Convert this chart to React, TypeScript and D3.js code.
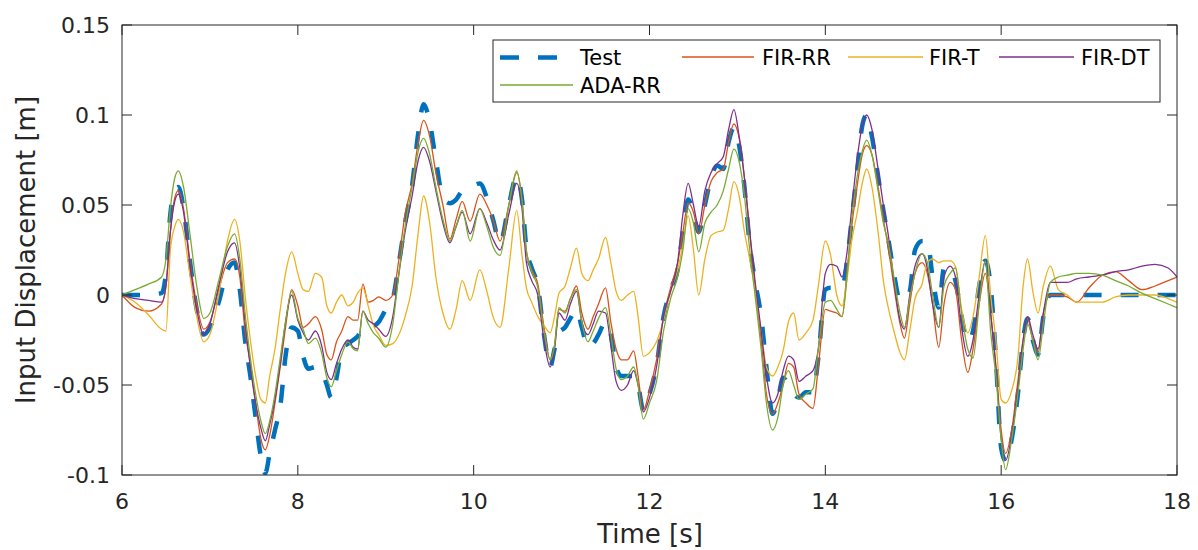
import React from "react";
import * as d3 from "d3";

const times = [6.0,6.15,6.3,6.45,6.5,6.55,6.6,6.64,6.7,6.77,6.85,6.93,7.0,7.1,7.2,7.28,7.34,7.4,7.46,7.52,7.58,7.63,7.68,7.74,7.8,7.86,7.93,8.0,8.06,8.12,8.2,8.27,8.33,8.38,8.44,8.5,8.57,8.63,8.68,8.74,8.8,8.86,8.92,9.0,9.08,9.15,9.22,9.3,9.37,9.43,9.5,9.57,9.65,9.73,9.8,9.87,9.96,10.07,10.15,10.22,10.3,10.4,10.49,10.55,10.6,10.66,10.73,10.8,10.87,10.92,10.97,11.04,11.1,11.17,11.23,11.3,11.36,11.42,11.5,11.56,11.62,11.68,11.75,11.82,11.87,11.93,12.0,12.08,12.16,12.24,12.32,12.38,12.44,12.5,12.56,12.63,12.7,12.77,12.84,12.9,12.96,13.02,13.08,13.14,13.2,13.27,13.33,13.4,13.46,13.52,13.58,13.64,13.7,13.78,13.86,13.92,14.0,14.06,14.13,14.19,14.25,14.3,14.36,14.42,14.47,14.53,14.6,14.66,14.72,14.78,14.85,14.9,14.96,15.02,15.1,15.16,15.22,15.29,15.35,15.42,15.48,15.55,15.62,15.68,15.75,15.82,15.88,15.94,16.0,16.05,16.12,16.19,16.25,16.3,16.36,16.42,16.48,16.56,16.65,16.75,16.86,17.0,17.15,17.3,17.45,17.6,17.75,17.9,18.0];

const testVals = [0,0,0,0.001,0.012,0.045,0.058,0.06,0.048,0.02,-0.008,-0.022,-0.018,-0.004,0.014,0.018,0.003,-0.025,-0.045,-0.068,-0.09,-0.099,-0.088,-0.075,-0.062,-0.034,-0.018,-0.02,-0.034,-0.041,-0.04,-0.042,-0.05,-0.057,-0.046,-0.03,-0.027,-0.025,-0.023,-0.018,-0.017,-0.017,-0.015,-0.008,-0.002,0.018,0.04,0.061,0.09,0.106,0.096,0.075,0.054,0.051,0.053,0.058,0.06,0.062,0.054,0.042,0.029,0.05,0.066,0.053,0.026,0.015,0.005,-0.022,-0.04,-0.03,-0.021,-0.018,-0.013,-0.008,-0.018,-0.029,-0.027,-0.022,-0.015,-0.022,-0.04,-0.045,-0.045,-0.045,-0.05,-0.064,-0.055,-0.039,-0.012,0.003,0.014,0.035,0.053,0.045,0.035,0.05,0.065,0.072,0.07,0.085,0.093,0.083,0.06,0.028,0.008,-0.012,-0.04,-0.066,-0.058,-0.046,-0.05,-0.055,-0.057,-0.054,-0.054,-0.035,0.003,0.004,0.004,0.004,0.02,0.042,0.068,0.094,0.1,0.088,0.066,0.047,0.03,0.012,-0.003,-0.002,0.002,0.025,0.03,0.03,0.01,-0.007,0.015,0.015,0.008,-0.012,-0.026,-0.02,0.005,0.019,0.005,-0.035,-0.085,-0.092,-0.08,-0.055,-0.025,-0.013,-0.025,-0.033,-0.012,0,0,0,0,0,0,0,0,0,0,0,0];

const firRR = [0,-0.007,-0.009,-0.005,0.005,0.035,0.054,0.058,0.048,0.02,-0.005,-0.019,-0.015,0.003,0.018,0.02,0.01,-0.02,-0.038,-0.06,-0.08,-0.086,-0.078,-0.06,-0.04,-0.018,0.003,-0.006,-0.018,-0.016,-0.012,-0.019,-0.033,-0.036,-0.026,-0.02,-0.012,-0.014,-0.014,0.006,-0.004,-0.003,-0.001,-0.003,0,0.02,0.045,0.062,0.085,0.097,0.088,0.068,0.05,0.031,0.042,0.052,0.041,0.056,0.05,0.042,0.03,0.05,0.068,0.053,0.024,0.014,0.006,-0.018,-0.036,-0.028,-0.008,-0.009,-0.002,0.005,-0.01,-0.019,-0.012,-0.005,0.004,-0.015,-0.03,-0.036,-0.036,-0.031,-0.045,-0.064,-0.053,-0.036,-0.012,0.004,0.018,0.035,0.051,0.046,0.034,0.05,0.063,0.068,0.07,0.085,0.095,0.087,0.065,0.035,0.005,-0.025,-0.055,-0.066,-0.06,-0.05,-0.038,-0.04,-0.055,-0.06,-0.063,-0.04,-0.008,-0.009,-0.01,-0.012,0.015,0.038,0.06,0.078,0.083,0.078,0.06,0.042,0.025,0.005,-0.016,-0.024,-0.005,0.012,0.018,0.012,-0.005,-0.029,-0.005,0.007,0.003,-0.025,-0.043,-0.03,-0.005,0.012,-0.01,-0.04,-0.075,-0.088,-0.075,-0.048,-0.025,-0.013,-0.025,-0.032,-0.01,0,0,-0.001,-0.004,0.004,0.011,0.013,0.008,0.003,0.005,0.008,0.01];

const firT = [0,-0.004,-0.011,-0.019,-0.02,0.025,0.038,0.042,0.035,0.012,-0.012,-0.026,-0.022,0,0.03,0.042,0.03,0,-0.025,-0.045,-0.058,-0.06,-0.045,-0.03,-0.008,0.012,0.024,0.012,0.003,0.002,0.012,0.01,-0.006,-0.01,-0.004,0,-0.006,-0.004,0.001,0.004,-0.006,-0.017,-0.022,-0.028,-0.027,-0.022,-0.012,0.005,0.035,0.055,0.04,0.01,-0.01,-0.019,-0.008,0.008,-0.003,0.014,0.002,-0.012,-0.018,0.015,0.047,0.022,0.004,-0.004,-0.012,-0.017,-0.021,-0.012,0.001,0.005,0.015,0.026,0.012,0.008,0.014,0.02,0.032,0.018,0.002,-0.003,0,0.002,-0.012,-0.034,-0.032,-0.026,-0.014,0.002,0.014,0.028,0.044,0.025,0,0.02,0.033,0.035,0.036,0.048,0.063,0.055,0.035,0.02,0.003,-0.02,-0.04,-0.045,-0.04,-0.031,-0.015,-0.01,-0.025,-0.021,-0.014,0.005,0.03,0.022,0,-0.006,0.01,0.03,0.045,0.062,0.07,0.06,0.035,0.008,-0.008,-0.02,-0.032,-0.036,-0.02,-0.002,0.006,0.018,0.02,0.018,0.019,0.019,0.016,-0.008,-0.021,-0.012,0.01,0.033,0,-0.025,-0.058,-0.06,-0.053,-0.035,0.005,0.02,0.002,-0.01,0.005,0.016,0.003,0,-0.004,-0.004,-0.004,-0.001,0,0,0,-0.002,-0.004];

const firDT = [0,-0.002,-0.003,-0.004,0.005,0.035,0.052,0.056,0.046,0.018,-0.008,-0.022,-0.016,0.005,0.024,0.029,0.015,-0.015,-0.04,-0.06,-0.074,-0.081,-0.072,-0.058,-0.038,-0.015,0,-0.014,-0.021,-0.025,-0.02,-0.028,-0.043,-0.047,-0.038,-0.03,-0.025,-0.029,-0.03,-0.009,-0.014,-0.016,-0.019,-0.023,-0.012,0.012,0.035,0.055,0.075,0.082,0.074,0.058,0.04,0.029,0.038,0.046,0.034,0.048,0.04,0.031,0.025,0.045,0.062,0.048,0.018,0.008,0,-0.025,-0.04,-0.03,-0.01,-0.014,-0.005,0.002,-0.015,-0.022,-0.016,-0.009,-0.01,-0.028,-0.048,-0.053,-0.05,-0.042,-0.05,-0.065,-0.057,-0.04,-0.012,0.002,0.018,0.045,0.062,0.05,0.038,0.058,0.068,0.073,0.077,0.092,0.103,0.088,0.065,0.035,0.008,-0.02,-0.045,-0.06,-0.055,-0.042,-0.034,-0.036,-0.048,-0.045,-0.042,-0.03,0.012,0.017,0.016,0.01,0.025,0.048,0.075,0.094,0.1,0.092,0.07,0.05,0.032,0.008,-0.014,-0.019,0,0.016,0.023,0.015,-0.005,-0.018,0.01,0.016,0.01,-0.018,-0.034,-0.025,0,0.019,-0.01,-0.04,-0.08,-0.092,-0.078,-0.052,-0.025,-0.012,-0.022,-0.03,-0.01,0.007,0.007,0.007,0.009,0.01,0.011,0.013,0.014,0.016,0.017,0.015,0.01];

const adaRR = [0,0.003,0.006,0.01,0.02,0.048,0.065,0.069,0.06,0.035,0.005,-0.013,-0.01,0.008,0.027,0.034,0.02,-0.01,-0.035,-0.055,-0.07,-0.077,-0.07,-0.055,-0.035,-0.015,0.002,-0.013,-0.019,-0.027,-0.024,-0.032,-0.046,-0.051,-0.042,-0.033,-0.026,-0.03,-0.031,-0.009,-0.016,-0.021,-0.024,-0.029,-0.016,0.012,0.038,0.06,0.08,0.087,0.078,0.06,0.042,0.03,0.038,0.047,0.03,0.048,0.038,0.027,0.022,0.05,0.069,0.052,0.025,0.013,0.004,-0.02,-0.036,-0.028,-0.007,-0.01,-0.002,0.003,-0.015,-0.026,-0.02,-0.013,-0.007,-0.022,-0.041,-0.047,-0.045,-0.04,-0.05,-0.069,-0.06,-0.048,-0.02,-0.002,0.01,0.025,0.048,0.04,0.024,0.04,0.046,0.05,0.058,0.07,0.081,0.074,0.055,0.025,0,-0.03,-0.06,-0.075,-0.068,-0.05,-0.042,-0.05,-0.058,-0.055,-0.052,-0.03,-0.004,-0.003,-0.008,-0.012,0.012,0.042,0.065,0.08,0.086,0.078,0.058,0.04,0.028,0.01,-0.01,-0.018,-0.002,0.012,0.023,0.018,0,-0.018,0.005,0.012,0.015,-0.01,-0.03,-0.035,-0.005,0.019,-0.02,-0.045,-0.08,-0.097,-0.08,-0.055,-0.03,-0.016,-0.025,-0.036,-0.016,0.007,0.01,0.011,0.012,0.012,0.011,0.008,0.005,0.001,-0.002,-0.005,-0.007];

const seriesNames = ["Test", "FIR-RR", "FIR-T", "FIR-DT", "ADA-RR"];
const seriesValues = [testVals, firRR, firT, firDT, adaRR];
const seriesColors = ["#0072BD", "#D95319", "#EDB120", "#7E2F8E", "#77AC30"];

const xTicks = [6, 8, 10, 12, 14, 16, 18];
const yTicks = [-0.1, -0.05, 0, 0.05, 0.1, 0.15];
const yTickLabels = ["-0.1", "-0.05", "0", "0.05", "0.1", "0.15"];

const W = 1198, H = 550;
const L = 122, R = 1177, T = 25, B = 475;
const axisColor = "#262626";
const FONT = "DejaVu Sans, sans-serif";

export default function App() {
  const x = d3.scaleLinear().domain([6, 18]).range([L, R]);
  const y = d3.scaleLinear().domain([-0.1, 0.15]).range([B, T]);
  const line = d3
    .line<number>()
    .x((_, i) => x(times[i]))
    .y((d) => y(d))
    .curve(d3.curveMonotoneX);

  const legendItems = [
    { i: 0, x0: 500, x1: 557, tx: 580, ly: 57.5, ty: 65 },
    { i: 1, x0: 682, x1: 754, tx: 762, ly: 57, ty: 65 },
    { i: 2, x0: 848, x1: 923, tx: 929, ly: 57, ty: 65 },
    { i: 3, x0: 999, x1: 1074, tx: 1081, ly: 57, ty: 65 },
    { i: 4, x0: 500, x1: 573, tx: 580, ly: 85, ty: 93 },
  ];

  const tickLen = 10;

  return (
    <svg width={W} height={H} style={{ position: "absolute", left: 0, top: 0, background: "#fff" }} fontFamily={FONT}>
      <rect x={0} y={0} width={W} height={H} fill="#fff" />
      <defs>
        <clipPath id="plotclip">
          <rect x={L} y={T} width={R - L} height={B - T} />
        </clipPath>
      </defs>
      <g clipPath="url(#plotclip)">
        {seriesValues.map((vals, si) => (
          <path
            key={si}
            d={line(vals) || ""}
            fill="none"
            stroke={seriesColors[si]}
            strokeWidth={si === 0 ? 4.5 : 1.3}
            strokeDasharray={si === 0 ? "18 19" : undefined}
            strokeLinejoin="round"
          />
        ))}
      </g>
      {/* box */}
      <rect x={L} y={T} width={R - L} height={B - T} fill="none" stroke={axisColor} strokeWidth={1} />
      {xTicks.map((t) => (
        <g key={"xt" + t}>
          <line x1={x(t)} x2={x(t)} y1={B} y2={B - tickLen} stroke={axisColor} />
          <line x1={x(t)} x2={x(t)} y1={T} y2={T + tickLen} stroke={axisColor} />
          <text x={x(t)} y={509} textAnchor="middle" fontSize={22} fill={axisColor}>
            {t}
          </text>
        </g>
      ))}
      {yTicks.map((v, i) => (
        <g key={"yt" + i}>
          <line x1={L} x2={L + tickLen} y1={y(v)} y2={y(v)} stroke={axisColor} />
          <line x1={R} x2={R - tickLen} y1={y(v)} y2={y(v)} stroke={axisColor} />
          <text x={110} y={y(v)} dy="0.36em" textAnchor="end" fontSize={22} fill={axisColor}>
            {yTickLabels[i]}
          </text>
        </g>
      ))}
      <text x={650} y={543} textAnchor="middle" fontSize={26} fill={axisColor}>
        Time [s]
      </text>
      <text transform="translate(35,250) rotate(-90)" textAnchor="middle" fontSize={26} fill={axisColor}>
        Input Displacement [m]
      </text>
      {/* legend */}
      <rect x={493} y={40} width={667} height={62} fill="#fff" stroke={axisColor} strokeWidth={1} />
      {legendItems.map((it) => (
        <g key={"lg" + it.i}>
          <line
            x1={it.x0}
            x2={it.x1}
            y1={it.ly}
            y2={it.ly}
            stroke={seriesColors[it.i]}
            strokeWidth={it.i === 0 ? 4.5 : 1.3}
            strokeDasharray={it.i === 0 ? "19 19" : undefined}
          />
          <text x={it.tx} y={it.ty} fontSize={21} fill="#000">
            {seriesNames[it.i]}
          </text>
        </g>
      ))}
    </svg>
  );
}
